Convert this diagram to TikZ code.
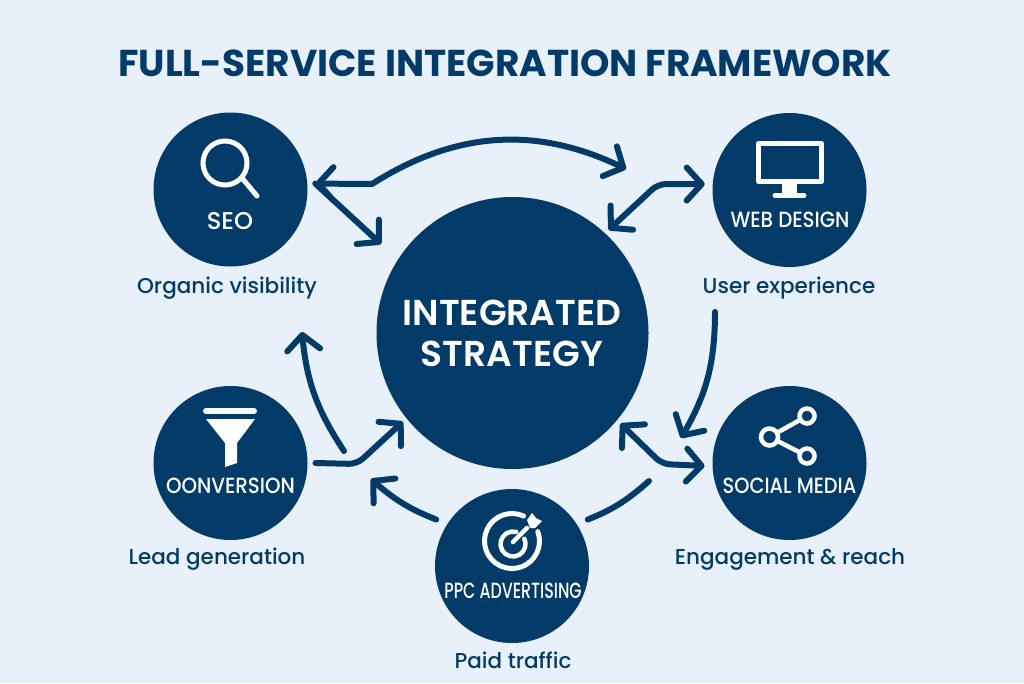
\documentclass[tikz,border=0pt]{standalone}
\usepackage{fontspec}
\setmainfont{Poppins}
\newfontfamily\medfont{Poppins Medium}
\newfontfamily\semifont{Poppins SemiBold}
\usetikzlibrary{arrows.meta}
\definecolor{navy}{HTML}{033B68}
\definecolor{paper}{HTML}{E8F1FA}
\begin{document}
\begin{tikzpicture}[x=1pt, y=-1pt, line cap=round,
  main/.style = {circle, fill=navy, minimum size=154pt, inner sep=0pt, outer sep=8pt},
  hub/.style = {circle, fill=navy, minimum size=272pt, inner sep=0pt, outer sep=5pt},
  tag/.style = {text=white, font=\medfont\fontsize{22}{24}\selectfont, inner sep=0pt},
  bigtag/.style = {text=white, font=\semifont\fontsize{36}{38}\selectfont, inner sep=0pt},
  caption/.style = {text=navy, font=\medfont\fontsize{21.5}{24}\selectfont, inner sep=0pt},
  barb/.tip = {Straight Barb[length=15pt, width=33pt, round, line width=6pt]},
  link/.style = {navy, line width=6pt, line join=round, -barb},
  twoway/.style = {navy, line width=6pt, line join=round, barb-barb},
  plain/.style = {navy, line width=6pt},
  icon/.style = {white, line width=5pt}]
  \useasboundingbox (0,0) rectangle (1024,683);
  \fill[paper] (0,0) rectangle (1024,683);
  \node[text=navy, font=\bfseries\fontsize{37.4}{40}\selectfont, inner sep=0pt] (title) at (505,63) {FULL-SERVICE INTEGRATION FRAMEWORK};
  \node[hub] (hub) at (512.5,333) {};
  \node[main] (seo) at (230.5,189.5) {};
  \node[main] (web) at (789.5,190) {};
  \node[main] (conv) at (230.5,463) {};
  \node[main] (social) at (789.5,463) {};
  \node[main] (ppc) at (512,566) {};
  \node[bigtag] (hubtag1) at (512,313) {INTEGRATED};
  \node[bigtag] (hubtag2) at (512,354) {STRATEGY};
  \node[tag] (seotag) at (230,221) {\scalebox{1.1}[1.1]{SEO}};
  \node[tag] (webtag) at (790,220) {\scalebox{.9}[1]{WEB DESIGN}};
  \node[tag] (convtag) at (230.5,486) {\scalebox{.9}[1]{OONVERSION}};
  \node[tag] (socialtag) at (789.5,486) {\scalebox{.88}[1]{SOCIAL MEDIA}};
  \node[tag] (ppctag) at (513,591) {\scalebox{.72}[1]{PPC ADVERTISING}};
  \node[caption] (seocap) at (227,288) {Organic visibility};
  \node[caption] (webcap) at (789,288) {User experience};
  \node[caption] (convcap) at (217,559) {Lead generation};
  \node[caption] (socialcap) at (790,559) {Engagement \& reach};
  \node[caption] (ppccap) at (513,660) {Paid traffic};
  \coordinate (a1) at (372,184);
  \coordinate (a2) at (626,169);
  \coordinate (w1) at (658,184);
  \coordinate (d1) at (715,312);
  \coordinate (d2) at (681,438);
  \coordinate (s1) at (662,464);
  \coordinate (f1) at (649,481);
  \coordinate (g1) at (371,479);
  \coordinate (h1) at (357,464);
  \coordinate (i1) at (344,451);
  \coordinate (i2) at (302,332);
  \draw[twoway] (seo.4) -- (a1) to [bend left=29] (a2);
  \draw[link, shorten >=18pt] (seo.4) -- (hub.147);
  \draw[twoway, rounded corners=8pt] (hub.47) -- (w1) -- (web.176);
  \draw[link] (d1) to [bend left=15] (d2);
  \draw[twoway, rounded corners=8pt] (hub.-40) -- (s1) -- (social.182);
  \draw[plain, shorten <=4pt] (ppc.32) to [bend right=10] (f1);
  \draw[link, shorten <=4pt] (ppc.148) to [bend left=10] (g1);
  \draw[link, rounded corners=8pt] (conv.0) -- (h1) -- (hub.219);
  \draw[link] (i1) to [bend left=14] (i2);
  \draw[icon] (225,163) circle (22);
  \draw[icon] (242,178) -- (257,196);
  \draw[icon, line width=4.5pt, line join=round] (758.5,143.5) rectangle (821.5,181.5);
  \fill[white] (782,184) rectangle (797,195);
  \draw[icon] (775,195.5) -- (804,195.5);
  \draw[icon, line width=6pt] (206,411) -- (254,411);
  \fill[white] (206,419) -- (255,419) -- (237,443) -- (237,463) -- (225,467) -- (225,443) -- cycle;
  \draw[icon] (512,541) ++(-65:27.5) arc (-65:-380:27.5);
  \draw[icon, line width=4.5pt] (513,544) ++(-75:12.5) arc (-75:-385:12.5);
  \draw[icon, line width=4.5pt] (513,542) -- (527,528);
  \fill[white] (527,520) -- (532,513) -- (536,518) -- (542,521) -- (535,528) -- (530,528) -- cycle;
  \draw[icon, line width=4.5pt] (769.5,437) -- (807,416);
  \draw[icon, line width=4.5pt] (769.5,437) -- (807,456);
  \draw[icon, line width=4.5pt, fill=navy] (769.5,437) circle (8.5);
  \draw[icon, line width=4.5pt, fill=navy] (807,416) circle (7.5);
  \draw[icon, line width=4.5pt, fill=navy] (807,456) circle (7.5);
\end{tikzpicture}
\end{document}
